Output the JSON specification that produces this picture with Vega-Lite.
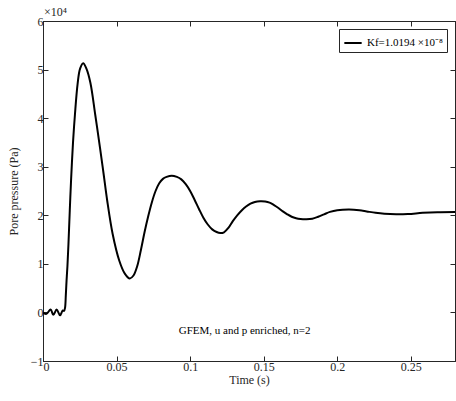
{
  "$schema": "https://vega.github.io/schema/vega-lite/v6.json",
  "width": 412,
  "height": 340,
  "autosize": {"type": "none"},
  "padding": {"left": 43, "top": 21, "right": 1, "bottom": 40},
  "background": "white",
  "config": {
    "font": "Liberation Serif",
    "view": {"stroke": "#262626", "strokeWidth": 1},
    "axis": {"grid": false, "domainColor": "#262626", "tickColor": "#262626", "labelColor": "#262626", "titleColor": "#262626", "labelFont": "Liberation Serif", "titleFont": "Liberation Serif", "labelFontSize": 12, "titleFontSize": 12, "titleFontWeight": "normal", "tickSize": -5, "tickWidth": 1, "labelPadding": 5}
  },
  "datasets": {
    "curve": [
      {"t": 0.0, "p": 0, "s": "Kf=1.0194 ×10⁻⁸"},
      {"t": 0.0023, "p": -300, "s": "Kf=1.0194 ×10⁻⁸"},
      {"t": 0.0052, "p": 600, "s": "Kf=1.0194 ×10⁻⁸"},
      {"t": 0.007, "p": -500, "s": "Kf=1.0194 ×10⁻⁸"},
      {"t": 0.0093, "p": 600, "s": "Kf=1.0194 ×10⁻⁸"},
      {"t": 0.0116, "p": -600, "s": "Kf=1.0194 ×10⁻⁸"},
      {"t": 0.0134, "p": 400, "s": "Kf=1.0194 ×10⁻⁸"},
      {"t": 0.0143, "p": 300, "s": "Kf=1.0194 ×10⁻⁸"},
      {"t": 0.015, "p": 1000, "s": "Kf=1.0194 ×10⁻⁸"},
      {"t": 0.0155, "p": 3500, "s": "Kf=1.0194 ×10⁻⁸"},
      {"t": 0.016, "p": 6500, "s": "Kf=1.0194 ×10⁻⁸"},
      {"t": 0.0166, "p": 9500, "s": "Kf=1.0194 ×10⁻⁸"},
      {"t": 0.0173, "p": 14100, "s": "Kf=1.0194 ×10⁻⁸"},
      {"t": 0.0182, "p": 21000, "s": "Kf=1.0194 ×10⁻⁸"},
      {"t": 0.0191, "p": 27400, "s": "Kf=1.0194 ×10⁻⁸"},
      {"t": 0.0204, "p": 35000, "s": "Kf=1.0194 ×10⁻⁸"},
      {"t": 0.0217, "p": 40700, "s": "Kf=1.0194 ×10⁻⁸"},
      {"t": 0.0235, "p": 47000, "s": "Kf=1.0194 ×10⁻⁸"},
      {"t": 0.0252, "p": 50200, "s": "Kf=1.0194 ×10⁻⁸"},
      {"t": 0.0273, "p": 51300, "s": "Kf=1.0194 ×10⁻⁸"},
      {"t": 0.0295, "p": 50200, "s": "Kf=1.0194 ×10⁻⁸"},
      {"t": 0.0322, "p": 47300, "s": "Kf=1.0194 ×10⁻⁸"},
      {"t": 0.0355, "p": 40700, "s": "Kf=1.0194 ×10⁻⁸"},
      {"t": 0.0387, "p": 34000, "s": "Kf=1.0194 ×10⁻⁸"},
      {"t": 0.0412, "p": 28500, "s": "Kf=1.0194 ×10⁻⁸"},
      {"t": 0.0436, "p": 23100, "s": "Kf=1.0194 ×10⁻⁸"},
      {"t": 0.0473, "p": 16200, "s": "Kf=1.0194 ×10⁻⁸"},
      {"t": 0.0518, "p": 10700, "s": "Kf=1.0194 ×10⁻⁸"},
      {"t": 0.0556, "p": 8000, "s": "Kf=1.0194 ×10⁻⁸"},
      {"t": 0.059, "p": 7000, "s": "Kf=1.0194 ×10⁻⁸"},
      {"t": 0.0615, "p": 7600, "s": "Kf=1.0194 ×10⁻⁸"},
      {"t": 0.064, "p": 9500, "s": "Kf=1.0194 ×10⁻⁸"},
      {"t": 0.0665, "p": 12800, "s": "Kf=1.0194 ×10⁻⁸"},
      {"t": 0.069, "p": 16500, "s": "Kf=1.0194 ×10⁻⁸"},
      {"t": 0.0715, "p": 19800, "s": "Kf=1.0194 ×10⁻⁸"},
      {"t": 0.074, "p": 22700, "s": "Kf=1.0194 ×10⁻⁸"},
      {"t": 0.0765, "p": 25000, "s": "Kf=1.0194 ×10⁻⁸"},
      {"t": 0.079, "p": 26600, "s": "Kf=1.0194 ×10⁻⁸"},
      {"t": 0.0815, "p": 27500, "s": "Kf=1.0194 ×10⁻⁸"},
      {"t": 0.084, "p": 27900, "s": "Kf=1.0194 ×10⁻⁸"},
      {"t": 0.0875, "p": 28150, "s": "Kf=1.0194 ×10⁻⁸"},
      {"t": 0.091, "p": 27900, "s": "Kf=1.0194 ×10⁻⁸"},
      {"t": 0.094, "p": 27400, "s": "Kf=1.0194 ×10⁻⁸"},
      {"t": 0.097, "p": 26400, "s": "Kf=1.0194 ×10⁻⁸"},
      {"t": 0.1, "p": 25000, "s": "Kf=1.0194 ×10⁻⁸"},
      {"t": 0.103, "p": 23200, "s": "Kf=1.0194 ×10⁻⁸"},
      {"t": 0.106, "p": 21300, "s": "Kf=1.0194 ×10⁻⁸"},
      {"t": 0.109, "p": 19500, "s": "Kf=1.0194 ×10⁻⁸"},
      {"t": 0.112, "p": 18100, "s": "Kf=1.0194 ×10⁻⁸"},
      {"t": 0.115, "p": 17100, "s": "Kf=1.0194 ×10⁻⁸"},
      {"t": 0.118, "p": 16550, "s": "Kf=1.0194 ×10⁻⁸"},
      {"t": 0.1205, "p": 16350, "s": "Kf=1.0194 ×10⁻⁸"},
      {"t": 0.123, "p": 16500, "s": "Kf=1.0194 ×10⁻⁸"},
      {"t": 0.126, "p": 17400, "s": "Kf=1.0194 ×10⁻⁸"},
      {"t": 0.129, "p": 18800, "s": "Kf=1.0194 ×10⁻⁸"},
      {"t": 0.132, "p": 20000, "s": "Kf=1.0194 ×10⁻⁸"},
      {"t": 0.135, "p": 21000, "s": "Kf=1.0194 ×10⁻⁸"},
      {"t": 0.138, "p": 21800, "s": "Kf=1.0194 ×10⁻⁸"},
      {"t": 0.141, "p": 22400, "s": "Kf=1.0194 ×10⁻⁸"},
      {"t": 0.144, "p": 22750, "s": "Kf=1.0194 ×10⁻⁸"},
      {"t": 0.1475, "p": 22900, "s": "Kf=1.0194 ×10⁻⁸"},
      {"t": 0.151, "p": 22850, "s": "Kf=1.0194 ×10⁻⁸"},
      {"t": 0.154, "p": 22600, "s": "Kf=1.0194 ×10⁻⁸"},
      {"t": 0.157, "p": 22100, "s": "Kf=1.0194 ×10⁻⁸"},
      {"t": 0.16, "p": 21500, "s": "Kf=1.0194 ×10⁻⁸"},
      {"t": 0.163, "p": 20800, "s": "Kf=1.0194 ×10⁻⁸"},
      {"t": 0.166, "p": 20200, "s": "Kf=1.0194 ×10⁻⁸"},
      {"t": 0.169, "p": 19700, "s": "Kf=1.0194 ×10⁻⁸"},
      {"t": 0.172, "p": 19400, "s": "Kf=1.0194 ×10⁻⁸"},
      {"t": 0.175, "p": 19250, "s": "Kf=1.0194 ×10⁻⁸"},
      {"t": 0.179, "p": 19200, "s": "Kf=1.0194 ×10⁻⁸"},
      {"t": 0.183, "p": 19300, "s": "Kf=1.0194 ×10⁻⁸"},
      {"t": 0.187, "p": 19700, "s": "Kf=1.0194 ×10⁻⁸"},
      {"t": 0.191, "p": 20200, "s": "Kf=1.0194 ×10⁻⁸"},
      {"t": 0.195, "p": 20700, "s": "Kf=1.0194 ×10⁻⁸"},
      {"t": 0.2, "p": 21050, "s": "Kf=1.0194 ×10⁻⁸"},
      {"t": 0.208, "p": 21200, "s": "Kf=1.0194 ×10⁻⁸"},
      {"t": 0.215, "p": 21050, "s": "Kf=1.0194 ×10⁻⁸"},
      {"t": 0.22, "p": 20800, "s": "Kf=1.0194 ×10⁻⁸"},
      {"t": 0.226, "p": 20500, "s": "Kf=1.0194 ×10⁻⁸"},
      {"t": 0.232, "p": 20300, "s": "Kf=1.0194 ×10⁻⁸"},
      {"t": 0.24, "p": 20200, "s": "Kf=1.0194 ×10⁻⁸"},
      {"t": 0.248, "p": 20250, "s": "Kf=1.0194 ×10⁻⁸"},
      {"t": 0.258, "p": 20500, "s": "Kf=1.0194 ×10⁻⁸"},
      {"t": 0.268, "p": 20650, "s": "Kf=1.0194 ×10⁻⁸"},
      {"t": 0.28, "p": 20700, "s": "Kf=1.0194 ×10⁻⁸"}
    ],
    "notes": [
      {"t": 0.137, "p": -3900, "label": "GFEM, u and p enriched, n=2"}
    ],
    "exp": [
      {"t": 0, "p": 60000, "label": "×10⁴"}
    ]
  },
  "layer": [
    {
      "data": {"name": "curve"},
      "mark": {"type": "line", "interpolate": "catmull-rom", "strokeWidth": 2, "clip": true},
      "encoding": {
        "x": {"field": "t", "type": "quantitative", "scale": {"domain": [0, 0.28], "nice": false, "zero": false}, "axis": {"title": "Time (s)", "values": [0, 0.05, 0.1, 0.15, 0.2, 0.25], "labelExpr": "datum.value == 0 ? '0' : format(datum.value, '.2~f')", "titlePadding": 2}},
        "y": {"field": "p", "type": "quantitative", "scale": {"domain": [-10000, 60000], "nice": false, "zero": false}, "axis": {"title": "Pore pressure (Pa)", "values": [-10000, 0, 10000, 20000, 30000, 40000, 50000, 60000], "labelExpr": "format(datum.value / 10000, 'd')", "titlePadding": 10}},
        "color": {"field": "s", "type": "nominal", "scale": {"range": ["black"]}, "legend": {"title": null, "orient": "top-right", "offset": 8, "symbolType": "stroke", "symbolSize": 300, "symbolStrokeWidth": 2, "strokeColor": "#262626", "fillColor": "white", "padding": 4, "labelFont": "Liberation Serif", "labelFontSize": 11, "labelColor": "black"}}
      }
    },
    {
      "data": {"name": "curve"},
      "mark": {"type": "line", "opacity": 0},
      "encoding": {
        "x": {"field": "t", "type": "quantitative", "axis": {"orient": "top", "labels": false, "title": null, "values": [0, 0.05, 0.1, 0.15, 0.2, 0.25]}},
        "y": {"field": "p", "type": "quantitative", "axis": {"orient": "right", "labels": false, "title": null, "values": [-10000, 0, 10000, 20000, 30000, 40000, 50000, 60000]}}
      }
    },
    {
      "data": {"name": "notes"},
      "mark": {"type": "text", "font": "Liberation Serif", "fontSize": 11, "color": "black"},
      "encoding": {
        "x": {"field": "t", "type": "quantitative", "axis": null},
        "y": {"field": "p", "type": "quantitative", "axis": null},
        "text": {"field": "label"}
      }
    },
    {
      "data": {"name": "exp"},
      "mark": {"type": "text", "font": "Liberation Serif", "fontSize": 12, "color": "#262626", "align": "left", "baseline": "bottom", "dx": 1, "dy": -2},
      "encoding": {
        "x": {"field": "t", "type": "quantitative", "axis": null},
        "y": {"field": "p", "type": "quantitative", "axis": null},
        "text": {"field": "label"}
      }
    }
  ],
  "resolve": {"axis": {"x": "independent", "y": "independent"}}
}
